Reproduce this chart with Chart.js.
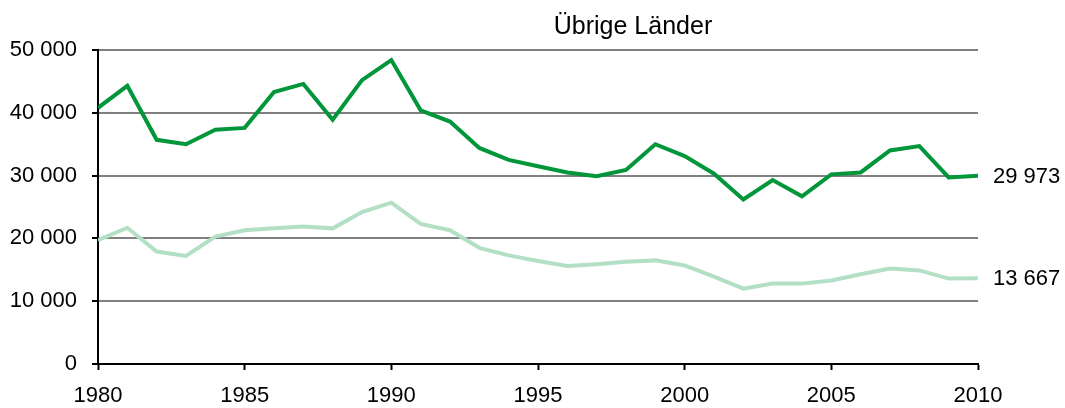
<!DOCTYPE html>
<html>
<head>
<meta charset="utf-8">
<script src="https://cdn.jsdelivr.net/npm/chart.js@4/dist/chart.umd.min.js"></script>
<style>
  body { margin: 0; background: #fff; }
  canvas { display: block; }
</style>
</head>
<body>
<canvas id="myChart" width="1065" height="408"></canvas>
<script>
// Jahre und Werte
const years = [];
for (let y = 1980; y <= 2010; y++) years.push(y);

const seriesDark = [40800, 44300, 35700, 35000, 37300, 37600, 43300, 44600, 38900, 45200,
  48400, 40400, 38600, 34400, 32500, 31500, 30500, 29900, 30900, 35000,
  33100, 30300, 26200, 29300, 26700, 30200, 30500, 34000, 34700, 29700, 29973];

const seriesLight = [19700, 21700, 17900, 17200, 20300, 21300, 21600, 21900, 21600, 24200,
  25700, 22300, 21300, 18500, 17300, 16400, 15600, 15900, 16300, 16500,
  15700, 13900, 12000, 12800, 12800, 13300, 14300, 15200, 14900, 13600, 13667];

const yTicks = [0, 10000, 20000, 30000, 40000, 50000];
const titleText = 'Übrige Länder';

const fontFamily = '"Liberation Sans", Arial, sans-serif';
const fmt = v => String(v).replace(/\B(?=(\d{3})+(?!\d))/g, ' ');

// Titel und Endwerte rechts
const extraText = {
  id: 'extraText',
  afterDraw(chart) {
    const { ctx, chartArea, scales } = chart;
    ctx.save();
    ctx.fillStyle = '#000';
    ctx.font = '25px ' + fontFamily;
    ctx.textAlign = 'center';
    ctx.textBaseline = 'alphabetic';
    ctx.fillText(titleText, 633, 34);

    ctx.font = '22px ' + fontFamily;
    ctx.textAlign = 'left';
    ctx.textBaseline = 'middle';
    chart.data.datasets.forEach(ds => {
      const last = ds.data[ds.data.length - 1];
      ctx.fillText(fmt(last.y), chartArea.right + 15, scales.y.getPixelForValue(last.y) + 1);
    });
    ctx.restore();
  }
};

const ctx = document.getElementById('myChart').getContext('2d');
const myChart = new Chart(ctx, {
  type: 'line',
  data: {
    datasets: [{
      label: 'dunkel',
      data: years.map((y, i) => ({ x: y, y: seriesDark[i] })),
      borderColor: '#009639',
      borderWidth: 4,
      pointRadius: 0,
      tension: 0
    }, {
      label: 'hell',
      data: years.map((y, i) => ({ x: y, y: seriesLight[i] })),
      borderColor: '#b3e0c4',
      borderWidth: 4,
      pointRadius: 0,
      tension: 0
    }]
  },
  options: {
    responsive: false,
    animation: false,
    layout: { padding: { top: 50, right: 87, left: 0, bottom: 0 } },
    plugins: {
      legend: { display: false },
      tooltip: { enabled: false }
    },
    scales: {
      x: {
        type: 'linear',
        min: 1980,
        max: 2010,
        afterFit: s => { s.height = 44; },
        afterBuildTicks: s => { s.ticks = years.filter(y => y % 5 === 0).map(v => ({ value: v })); },
        ticks: {
          color: '#000',
          font: { family: fontFamily, size: 22 },
          padding: 13,
          maxRotation: 0,
          callback: v => String(v)
        },
        grid: { drawOnChartArea: false, drawTicks: true, tickLength: 6, tickColor: '#000', tickWidth: 2 },
        border: { color: '#000', width: 2 }
      },
      y: {
        min: 0,
        max: 50000,
        afterFit: s => { s.width = 98; },
        afterBuildTicks: s => { s.ticks = yTicks.map(v => ({ value: v })); },
        ticks: {
          color: '#000',
          font: { family: fontFamily, size: 22 },
          padding: 15,
          callback: v => fmt(v)
        },
        grid: { color: '#808080', lineWidth: 2, drawTicks: true, tickLength: 6, tickColor: '#000', tickWidth: 2 },
        border: { color: '#000', width: 2 }
      }
    }
  },
  plugins: [extraText]
});
</script>
</body>
</html>
